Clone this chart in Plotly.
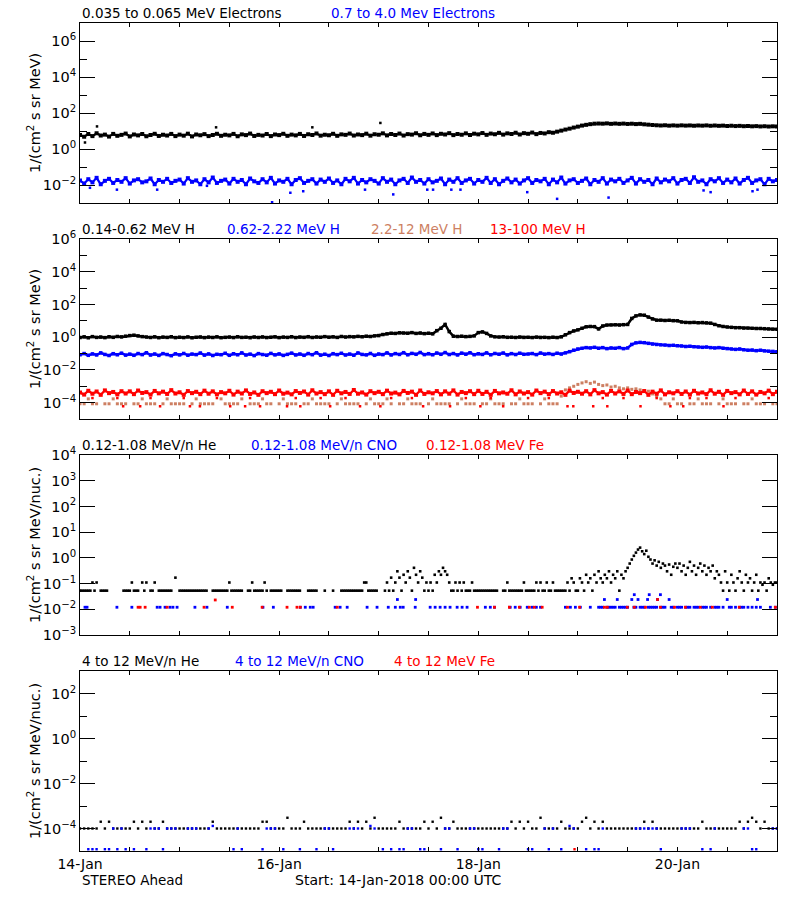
import pandas as pd
import plotly.graph_objects as go

START = pd.Timestamp("2018-01-14 00:00")
END = pd.Timestamp("2018-01-21 00:00")

# ---------------- Panel 1: electrons, hourly values ----------------
e_low = [
    6.0, 4.8, 6.8, 5.2, 7.5, 5.6, 6.3, 4.9, 6.9, 5.4, 6.1, 7.2,
    5.0, 6.4, 5.7, 6.8, 5.1, 6.0, 7.0, 5.3, 6.2, 5.6, 6.9, 5.2,
    6.3, 5.5, 7.1, 5.0, 6.4, 5.8, 6.7, 5.2, 6.0, 7.0, 5.4, 6.2,
    5.7, 6.9, 5.1, 6.5, 5.9, 7.2, 5.3, 6.1, 5.6, 6.8, 5.2, 6.4,
    5.9, 7.0, 5.4, 6.3, 5.7, 6.9, 5.3, 6.6, 6.0, 7.3, 5.5, 6.2,
    5.8, 7.0, 5.4, 6.5, 6.1, 7.2, 5.6, 6.4, 5.9, 7.1, 5.5, 6.6,
    6.2, 7.4, 5.7, 6.8, 6.0, 7.2, 5.6, 6.7, 6.3, 7.5, 5.8, 6.9,
    6.1, 7.3, 5.9, 7.0, 6.4, 7.6, 5.9, 6.8, 6.2, 7.4, 6.0, 7.1,
    6.5, 7.7, 6.1, 7.2, 6.6, 7.9, 6.3, 7.4, 6.8, 8.0, 6.4, 7.6,
    7.0, 8.2, 6.7, 7.8, 7.3, 8.6, 8.0, 9.2, 10.5, 12.0, 13.5, 15.5,
    17.5, 20.0, 22.0, 24.0, 25.5, 26.0, 25.5, 26.5, 25.0, 26.0, 25.0, 25.8,
    24.6, 25.4, 24.2, 25.0, 23.5, 22.5, 21.5, 20.8, 20.2, 20.8, 19.8, 20.5,
    19.8, 20.6, 19.9, 20.4, 19.6, 20.3, 19.8, 20.5, 19.5, 20.2, 19.4, 19.9,
    19.0, 19.6, 18.8, 19.3, 18.5, 19.0, 18.2, 18.7, 17.9, 18.4, 17.7, 18.2,
    17.6]
e_low_out_hours = [1.2, 4.1, 32.8, 56.0, 72.4]
e_low_out_vals = [2.3, 18.0, 16.0, 16.0, 28.0]

e_high = [
    0.018, 0.012, 0.021, 0.014, 0.025, 0.011, 0.017, 0.022, 0.013, 0.019, 0.015, 0.024,
    0.012, 0.018, 0.021, 0.014, 0.016, 0.023, 0.011, 0.019, 0.015, 0.022, 0.013, 0.017,
    0.020, 0.012, 0.024, 0.015, 0.018, 0.011, 0.021, 0.014, 0.026, 0.013, 0.017, 0.020,
    0.012, 0.022, 0.015, 0.019, 0.011, 0.023, 0.016, 0.013, 0.021, 0.014, 0.025, 0.012,
    0.018, 0.015, 0.022, 0.011, 0.019, 0.024, 0.013, 0.017, 0.021, 0.012, 0.020, 0.015,
    0.023, 0.013, 0.018, 0.011, 0.022, 0.016, 0.025, 0.012, 0.019, 0.014, 0.021, 0.017,
    0.012, 0.024, 0.015, 0.020, 0.011, 0.018, 0.022, 0.013, 0.026, 0.015, 0.019, 0.012,
    0.021, 0.014, 0.017, 0.023, 0.011, 0.020, 0.015, 0.024, 0.013, 0.018, 0.022, 0.012,
    0.019, 0.015, 0.025, 0.013, 0.021, 0.011, 0.017, 0.023, 0.014, 0.020, 0.012, 0.018,
    0.024, 0.013, 0.019, 0.016, 0.022, 0.011, 0.020, 0.014, 0.026, 0.012, 0.018, 0.021,
    0.013, 0.017, 0.023, 0.011, 0.019, 0.015, 0.024, 0.012, 0.020, 0.016, 0.022, 0.013,
    0.018, 0.025, 0.012, 0.021, 0.015, 0.019, 0.011, 0.023, 0.014, 0.020, 0.016, 0.024,
    0.012, 0.019, 0.022, 0.013, 0.027, 0.015, 0.018, 0.011, 0.021, 0.016, 0.024, 0.013,
    0.020, 0.014, 0.023, 0.012, 0.019, 0.025, 0.013, 0.018, 0.021, 0.011, 0.022, 0.016,
    0.019]
e_high_out_hours = [2.4, 8.9, 18.6, 30.6, 46.3, 50.7, 53.8, 68.7, 75.5, 83.7,
                    85.1, 89.5, 91.7, 107.8, 115.0, 127.4, 150.3, 152.0, 162.1, 163.3]
e_high_out_vals = [0.007, 0.0055, 0.0055, 0.009, 0.0011, 0.0037, 0.0045, 0.0055, 0.003, 0.0055,
                   0.0055, 0.0055, 0.0055, 0.004, 0.0017, 0.002, 0.005, 0.004, 0.0045, 0.0055]

# ---------------- Panel 2: protons, hourly values ----------------
h_014 = [
    0.95, 1.05, 0.92, 1.08, 0.97, 1.02, 0.94, 1.06, 0.98, 1.10, 1.04, 1.15,
    1.25, 1.32, 1.20, 1.08, 1.02, 0.96, 1.05, 0.93, 1.01, 0.97, 1.06, 0.94,
    1.00, 0.95, 1.04, 0.92, 0.99, 1.03, 0.94, 1.01, 0.96, 1.05, 0.93, 0.98,
    1.02, 0.95, 1.06, 0.97, 1.00, 0.93, 1.03, 0.96, 1.04, 0.95, 0.99, 1.05,
    0.94, 1.01, 0.97, 1.06, 0.95, 1.02, 0.98, 1.07, 0.96, 1.03, 0.99, 1.08,
    1.00, 1.05, 0.97, 1.10, 1.02, 1.08, 1.04, 1.12, 1.06, 1.15, 1.10, 1.20,
    1.25, 1.45, 1.60, 1.75, 1.70, 1.85, 1.80, 1.75, 1.90, 1.70, 1.80, 1.65,
    1.75, 1.60, 2.50, 3.50, 6.00, 2.20, 1.15, 1.10, 1.15, 1.08, 1.12, 1.20,
    1.90, 2.10, 1.70, 1.20, 1.05, 1.02, 1.06, 0.98, 1.00, 0.96, 1.02, 0.97,
    0.99, 0.95, 1.01, 0.96, 0.98, 0.94, 1.00, 0.95, 1.05, 1.40, 1.90, 2.40,
    2.80, 3.50, 4.30, 4.50, 4.40, 3.20, 4.80, 5.50, 5.60, 5.70, 5.50, 5.80,
    6.00, 14.0, 20.0, 23.0, 22.0, 17.0, 13.0, 11.0, 11.0, 10.5, 10.8, 10.2,
    10.0, 8.5, 8.0, 7.8, 8.0, 7.6, 7.8, 7.5, 7.2, 6.0, 5.0, 4.5,
    4.2, 4.0, 3.8, 3.8, 3.6, 3.6, 3.5, 3.4, 3.4, 3.3, 3.2, 3.1,
    3.0]

h_062 = [
    0.085, 0.10, 0.078, 0.095, 0.082, 0.11, 0.088, 0.076, 0.098, 0.084, 0.105, 0.080,
    0.092, 0.078, 0.10, 0.086, 0.112, 0.081, 0.094, 0.077, 0.099, 0.087, 0.074, 0.096,
    0.083, 0.101, 0.079, 0.093, 0.086, 0.108, 0.080, 0.095, 0.076, 0.090, 0.085, 0.104,
    0.078, 0.097, 0.084, 0.11, 0.081, 0.092, 0.075, 0.099, 0.087, 0.079, 0.102, 0.083,
    0.095, 0.077, 0.089, 0.106, 0.082, 0.094, 0.078, 0.10, 0.085, 0.112, 0.080, 0.091,
    0.076, 0.098, 0.086, 0.104, 0.081, 0.093, 0.079, 0.109, 0.088, 0.083, 0.101, 0.078,
    0.094, 0.086, 0.11, 0.082, 0.099, 0.088, 0.113, 0.084, 0.102, 0.090, 0.116, 0.086,
    0.098, 0.084, 0.108, 0.090, 0.115, 0.087, 0.10, 0.082, 0.106, 0.091, 0.112, 0.085,
    0.097, 0.088, 0.110, 0.084, 0.101, 0.091, 0.108, 0.083, 0.099, 0.087, 0.105, 0.090,
    0.094, 0.10, 0.086, 0.108, 0.092, 0.099, 0.088, 0.105, 0.093, 0.11, 0.13, 0.16,
    0.19, 0.21, 0.23, 0.22, 0.24, 0.21, 0.23, 0.20, 0.22, 0.21, 0.23, 0.20,
    0.22, 0.36, 0.45, 0.48, 0.46, 0.42, 0.38, 0.36, 0.34, 0.33, 0.31, 0.32,
    0.30, 0.29, 0.27, 0.28, 0.26, 0.25, 0.24, 0.25, 0.23, 0.22, 0.23, 0.21,
    0.20, 0.19, 0.18, 0.19, 0.17, 0.16, 0.165, 0.15, 0.16, 0.145, 0.14, 0.135,
    0.13]

h_22 = [
    8.5e-5, 8.5e-5, 1.7e-4, 8.5e-5, 8.5e-5, None, 8.5e-5, 8.5e-5, 1.7e-4, 8.5e-5, 8.5e-5, 8.5e-5,
    None, 8.5e-5, 8.5e-5, 1.7e-4, 8.5e-5, 8.5e-5, 8.5e-5, None, 8.5e-5, 1.7e-4, 8.5e-5, 8.5e-5,
    8.5e-5, 8.5e-5, None, 8.5e-5, 1.7e-4, 8.5e-5, 8.5e-5, 8.5e-5, 8.5e-5, None, 1.7e-4, 8.5e-5,
    8.5e-5, 8.5e-5, 8.5e-5, 1.7e-4, None, 8.5e-5, 8.5e-5, 8.5e-5, 1.7e-4, 8.5e-5, 8.5e-5, None,
    8.5e-5, 1.7e-4, 8.5e-5, 8.5e-5, 8.5e-5, None, 8.5e-5, 8.5e-5, 1.7e-4, 8.5e-5, 8.5e-5, 8.5e-5,
    8.5e-5, None, 8.5e-5, 1.7e-4, 8.5e-5, 8.5e-5, 8.5e-5, 8.5e-5, None, 8.5e-5, 1.7e-4, 8.5e-5,
    8.5e-5, 8.5e-5, 1.7e-4, 8.5e-5, None, 8.5e-5, 8.5e-5, 1.7e-4, 8.5e-5, 8.5e-5, 8.5e-5, None,
    8.5e-5, 1.7e-4, 8.5e-5, 8.5e-5, 8.5e-5, 8.5e-5, None, 8.5e-5, 1.7e-4, 8.5e-5, 8.5e-5, 8.5e-5,
    None, 8.5e-5, 8.5e-5, 1.7e-4, 8.5e-5, 8.5e-5, 8.5e-5, None, 8.5e-5, 8.5e-5, 1.7e-4, 8.5e-5,
    8.5e-5, 8.5e-5, None, 8.5e-5, 1.7e-4, 8.5e-5, 8.5e-5, 8.5e-5, 2.5e-4, 6.0e-4, 8.0e-4, 1.0e-3,
    1.3e-3, 1.6e-3, 1.9e-3, 1.5e-3, 1.8e-3, 1.3e-3, 1.1e-3, 1.2e-3, 9.0e-4, 1.0e-3, 8.0e-4, 7.0e-4,
    8.0e-4, 6.5e-4, 7.0e-4, 6.0e-4, 5.5e-4, 5.0e-4, 3.4e-4, 2.5e-4, 1.7e-4, 8.5e-5, 8.5e-5, 1.7e-4,
    8.5e-5, 8.5e-5, None, 8.5e-5, 8.5e-5, 1.7e-4, 8.5e-5, 8.5e-5, 8.5e-5, None, 8.5e-5, 1.7e-4,
    8.5e-5, 8.5e-5, 8.5e-5, None, 8.5e-5, 8.5e-5, 1.7e-4, 8.5e-5, 8.5e-5, 8.5e-5, None, 8.5e-5,
    8.5e-5]

h_13 = [
    4.2e-4, 3.1e-4, 5.3e-4, 3.5e-4, 4.8e-4, 3.0e-4, 5.6e-4, 3.8e-4, 4.5e-4, 3.2e-4, 5.0e-4, 3.6e-4,
    4.9e-4, 3.3e-4, 5.5e-4, 3.9e-4, 4.4e-4, 3.1e-4, 5.2e-4, 3.7e-4, 4.7e-4, 3.4e-4, 5.8e-4, 3.6e-4,
    4.3e-4, 3.0e-4, 5.1e-4, 3.8e-4, 4.6e-4, 3.3e-4, 5.4e-4, 3.5e-4, 4.9e-4, 3.2e-4, 4.4e-4, 3.7e-4,
    5.3e-4, 3.1e-4, 4.7e-4, 3.6e-4, 5.6e-4, 3.4e-4, 4.2e-4, 3.0e-4, 5.0e-4, 3.8e-4, 4.6e-4, 3.3e-4,
    5.5e-4, 3.5e-4, 4.1e-4, 3.2e-4, 5.1e-4, 3.9e-4, 4.8e-4, 3.1e-4, 5.7e-4, 3.6e-4, 4.4e-4, 3.3e-4,
    4.9e-4, 3.0e-4, 5.3e-4, 3.7e-4, 4.5e-4, 3.4e-4, 5.9e-4, 3.5e-4, 4.2e-4, 3.1e-4, 5.0e-4, 3.8e-4,
    4.6e-4, 3.3e-4, 5.4e-4, 3.6e-4, 4.1e-4, 3.2e-4, 5.2e-4, 3.9e-4, 4.7e-4, 3.0e-4, 5.5e-4, 3.4e-4,
    4.3e-4, 3.7e-4, 5.1e-4, 3.2e-4, 4.9e-4, 3.5e-4, 5.6e-4, 3.1e-4, 4.5e-4, 3.8e-4, 5.0e-4, 3.3e-4,
    5.3e-4, 3.4e-4, 4.6e-4, 3.0e-4, 5.2e-4, 3.7e-4, 4.2e-4, 3.5e-4, 5.7e-4, 3.2e-4, 4.8e-4, 3.6e-4,
    4.4e-4, 3.1e-4, 5.5e-4, 3.8e-4, 4.7e-4, 3.3e-4, 5.1e-4, 3.6e-4, 4.3e-4, 3.0e-4, 5.4e-4, 3.9e-4,
    4.6e-4, 3.5e-4, 5.0e-4, 3.2e-4, 5.8e-4, 3.7e-4, 4.4e-4, 3.1e-4, 5.2e-4, 3.6e-4, 4.9e-4, 3.4e-4,
    5.5e-4, 3.3e-4, 4.5e-4, 3.8e-4, 5.1e-4, 3.0e-4, 4.7e-4, 3.5e-4, 5.6e-4, 3.2e-4, 4.3e-4, 3.7e-4,
    5.0e-4, 3.4e-4, 4.8e-4, 3.1e-4, 5.3e-4, 3.6e-4, 4.2e-4, 3.3e-4, 5.7e-4, 3.5e-4, 4.6e-4, 3.0e-4,
    5.2e-4, 3.8e-4, 4.4e-4, 3.2e-4, 5.5e-4, 3.4e-4, 4.9e-4, 3.1e-4, 4.5e-4, 3.7e-4, 5.4e-4, 3.3e-4,
    4.6e-4]
h_13_out_hours = [
    3.0, 9.0, 10.4, 14.5, 17.0, 19.3, 25.0, 26.5, 28.9, 33.0,
    36.2, 39.8, 41.0, 43.4, 49.9, 52.0, 53.1, 58.0, 60.3, 64.0,
    67.5, 72.4, 75.0, 80.0, 82.7, 89.2, 93.0, 96.5, 99.0, 102.0,
    108.0, 113.0, 117.5, 118.9, 123.7, 126.0, 127.1, 131.0, 135.1, 139.0,
    142.3, 145.4, 147.0, 151.0, 155.1, 158.0, 166.0]
h_13_out_vals = [
    1.9e-4, 1.9e-4, 6e-5, 6e-5, 1.9e-4, 6e-5, 1.9e-4, 6e-5, 6e-5, 1.9e-4,
    6e-5, 6e-5, 1.9e-4, 6e-5, 6e-5, 1.9e-4, 6e-5, 1.9e-4, 6e-5, 1.9e-4,
    6e-5, 6e-5, 1.9e-4, 1.9e-4, 6e-5, 6e-5, 1.9e-4, 6e-5, 1.9e-4, 6e-5,
    1.9e-4, 1.9e-4, 6e-5, 6e-5, 6e-5, 1.9e-4, 6e-5, 1.9e-4, 6e-5, 1.9e-4,
    6e-5, 6e-5, 1.9e-4, 1.9e-4, 6e-5, 1.9e-4, 1.9e-4]

# ---------------- Panel 3: 0.12-1.08 MeV/n ions ----------------
# He, half-hourly values
he_low = [
    0.053, 0.053, 0.053, 0.053, 0.053, 0.053, 0.11, 0.053, 0.11, None, 0.053, 0.053,
    0.053, 0.053, None, None, None, None, None, None, None, 0.053, 0.053, 0.053,
    0.053, 0.11, 0.053, 0.053, 0.053, None, 0.11, 0.053, 0.11, None, 0.053, 0.053,
    0.11, None, 0.053, 0.053, 0.053, 0.053, 0.053, 0.053, 0.053, None, 0.17, None,
    0.053, 0.053, 0.053, 0.053, 0.053, 0.053, 0.053, 0.053, 0.053, 0.053, 0.053, 0.053,
    0.053, 0.053, None, None, 0.053, 0.053, 0.053, 0.053, 0.053, 0.053, 0.053, 0.053,
    0.11, 0.053, 0.053, 0.053, 0.053, 0.053, 0.053, None, None, 0.053, 0.053, 0.11,
    0.053, 0.053, 0.053, 0.053, 0.053, 0.11, 0.053, None, 0.053, 0.053, 0.053, 0.053,
    0.053, 0.053, None, None, 0.053, 0.053, 0.053, 0.053, 0.053, 0.053, 0.053, None,
    None, None, 0.053, 0.053, 0.053, 0.053, 0.053, None, None, None, 0.053, None,
    None, None, 0.053, None, None, None, 0.053, 0.053, 0.053, 0.053, 0.053, 0.053,
    0.053, 0.053, 0.053, 0.053, 0.053, 0.11, 0.11, 0.053, 0.053, 0.053, 0.053, 0.053,
    None, None, None, 0.053, 0.11, 0.053, 0.17, 0.053, 0.11, 0.3, 0.17, 0.053,
    0.22, 0.11, 0.3, 0.17, 0.053, 0.41, 0.22, 0.11, 0.3, 0.17, 0.053, 0.11,
    0.053, 0.11, 0.053, 0.22, 0.11, 0.3, 0.22, 0.41, 0.3, 0.22, 0.11, 0.053,
    0.053, 0.11, 0.053, 0.11, 0.053, 0.11, 0.053, 0.053, 0.053, 0.11, 0.053, 0.053,
    0.053, 0.053, 0.053, 0.053, 0.053, 0.053, 0.053, 0.053, 0.053, 0.053, None, None,
    0.053, 0.053, 0.11, 0.053, 0.053, 0.053, 0.053, 0.053, 0.053, 0.053, 0.11, 0.053,
    0.053, 0.053, 0.053, 0.053, 0.11, 0.053, 0.11, 0.053, 0.053, 0.11, 0.053, 0.053,
    0.11, 0.053, 0.053, 0.053, 0.053, 0.053, 0.053, 0.11, 0.053, 0.16, 0.11, 0.053,
    0.053, 0.16, 0.11, 0.053, 0.22, 0.11, 0.16, 0.053, 0.22, 0.11, 0.3, 0.16,
    0.11, 0.22, 0.16, 0.3, 0.11, 0.22, 0.16, 0.3, 0.053, 0.22, 0.16, 0.3,
    0.41, 0.6, 0.86, 1.2, 1.6, 2.1, 2.5, 1.8, 1.4, 1.9, 1.1, 0.86,
    0.6, 0.8, 0.5, 0.7, 0.41, 0.6, 0.5, 0.3, 0.55, 0.22, 0.45, 0.6,
    0.41, 0.6, 0.3, 0.5, 0.22, 0.41, 0.7, 0.3, 0.5, 0.22, 0.41, 0.6,
    0.3, 0.5, 0.22, 0.41, 0.3, 0.5, 0.16, 0.3, 0.22, 0.11, 0.053, 0.3,
    0.11, 0.053, 0.22, 0.11, 0.053, 0.16, 0.3, 0.11, 0.053, 0.22, 0.11, 0.16,
    0.053, 0.11, 0.22, 0.053, 0.11, 0.09, 0.11, 0.053, 0.16, 0.11, 0.09, 0.11,
    0.11]

cno_low_hours = [
    1.2, 1.7, 8.9, 12.5, 18.6, 19.3, 20.5, 21.7, 22.4, 23.4,
    27.7, 30.6, 35.5, 44.1, 46.6, 53.1, 54.3, 55.5, 56.2, 61.5,
    62.7, 64.4, 69.2, 71.6, 74.3, 76.0, 76.5, 77.2, 77.9, 80.8,
    80.9, 84.4, 85.6, 86.8, 88.0, 89.2, 90.9, 92.1, 93.3, 97.7,
    98.9, 99.9, 103.7, 104.9, 106.1, 107.8, 109.0, 110.0, 111.0, 117.0,
    118.2, 119.4, 120.6, 123.0, 125.0, 125.5, 126.0, 126.4, 127.0, 127.5,
    128.0, 128.5, 129.0, 129.5, 130.0, 130.5, 131.0, 131.5, 132.0, 133.0,
    133.5, 133.6, 134.0, 134.5, 135.0, 135.5, 136.0, 136.8, 137.0, 137.2,
    137.5, 138.0, 138.5, 139.0, 139.2, 139.9, 140.0, 140.5, 141.0, 142.0,
    142.5, 143.0, 144.0, 144.5, 145.0, 146.0, 146.5, 147.0, 148.0, 148.5,
    149.0, 150.0, 150.5, 151.0, 152.0, 153.0, 153.5, 154.0, 155.0, 156.0,
    156.5, 157.0, 158.0, 159.0, 159.5, 160.0, 161.0, 162.0, 163.0, 163.3,
    164.0, 166.4, 167.6]
cno_low_vals = [
    0.012, 0.012, 0.012, 0.012, 0.012, 0.012, 0.012, 0.012, 0.012, 0.012,
    0.012, 0.012, 0.012, 0.012, 0.012, 0.012, 0.012, 0.012, 0.012, 0.012,
    0.012, 0.012, 0.012, 0.012, 0.012, 0.012, 0.024, 0.012, 0.012, 0.012,
    0.024, 0.012, 0.012, 0.012, 0.012, 0.012, 0.012, 0.012, 0.012, 0.012,
    0.012, 0.012, 0.012, 0.012, 0.012, 0.012, 0.012, 0.012, 0.012, 0.012,
    0.012, 0.012, 0.012, 0.012, 0.012, 0.012, 0.012, 0.024, 0.012, 0.012,
    0.012, 0.012, 0.012, 0.024, 0.012, 0.012, 0.012, 0.012, 0.012, 0.024,
    0.012, 0.037, 0.012, 0.024, 0.012, 0.012, 0.012, 0.024, 0.012, 0.037,
    0.012, 0.012, 0.012, 0.012, 0.024, 0.037, 0.012, 0.012, 0.012, 0.024,
    0.012, 0.012, 0.012, 0.012, 0.012, 0.012, 0.012, 0.012, 0.012, 0.012,
    0.012, 0.012, 0.012, 0.012, 0.012, 0.012, 0.012, 0.012, 0.012, 0.024,
    0.012, 0.012, 0.012, 0.012, 0.012, 0.012, 0.012, 0.012, 0.012, 0.024,
    0.012, 0.012, 0.012]

fe_low_hours = [
    14.0, 14.5, 15.7, 21.0, 29.9, 32.6, 36.7, 43.9, 49.9, 52.3,
    53.1, 62.0, 95.8, 99.9, 103.5, 105.9, 108.3, 109.5, 111.4, 117.5,
    120.4, 126.4, 127.1, 131.9, 133.6, 136.3, 139.2, 139.9, 143.3, 145.9,
    149.5, 152.4, 158.9, 167.6]
fe_low_vals = [
    0.012, 0.012, 0.012, 0.012, 0.012, 0.023, 0.012, 0.012, 0.012, 0.012,
    0.012, 0.012, 0.012, 0.012, 0.012, 0.012, 0.012, 0.012, 0.012, 0.012,
    0.012, 0.012, 0.012, 0.012, 0.012, 0.012, 0.024, 0.012, 0.012, 0.012,
    0.012, 0.012, 0.012, 0.012]

# ---------------- Panel 4: 4-12 MeV/n ions, hourly values ----------------
he_high = [
    1e-4, 1e-4, 1e-4, 1e-4, 1e-4, 2e-4, 1e-4, 2e-4, 1e-4, 1e-4, 1e-4, 1e-4,
    1e-4, 2e-4, 1e-4, 2e-4, 1e-4, 2e-4, 1e-4, 1e-4, 2e-4, 1e-4, 1e-4, 1e-4,
    1e-4, 1e-4, 1e-4, 1e-4, 1e-4, 1e-4, 1e-4, 1e-4, 2e-4, 1e-4, 1e-4, 1e-4,
    1e-4, 1e-4, 1e-4, 1e-4, 1e-4, 1e-4, 1e-4, 1e-4, 2e-4, 2e-4, 1e-4, 1e-4,
    1e-4, 1e-4, 3e-4, 1e-4, 1e-4, 1e-4, 2e-4, 1e-4, 1e-4, 1e-4, 1e-4, 1e-4,
    1e-4, 1e-4, 1e-4, 1e-4, 1e-4, 2e-4, 1e-4, 2e-4, 1e-4, 2e-4, 1e-4, 3e-4,
    1e-4, 1e-4, 1e-4, 1e-4, 1e-4, 2e-4, 1e-4, 1e-4, 1e-4, 1e-4, 1e-4, 2e-4,
    1e-4, 2e-4, 1e-4, 3e-4, 1e-4, 1e-4, 2e-4, 1e-4, 1e-4, 1e-4, 1e-4, 1e-4,
    1e-4, 1e-4, 1e-4, 1e-4, 1e-4, 1e-4, 1e-4, 1e-4, 2e-4, 1e-4, 2e-4, 1e-4,
    2e-4, 1e-4, 1e-4, 3e-4, 1e-4, 1e-4, 1e-4, 1e-4, 2e-4, 1e-4, 1e-4, 1e-4,
    1e-4, 2e-4, 3e-4, 1e-4, 2e-4, 1e-4, 2e-4, 1e-4, 1e-4, 1e-4, 1e-4, 1e-4,
    1e-4, 1e-4, 1e-4, 1e-4, 2e-4, 1e-4, 2e-4, 1e-4, 1e-4, 1e-4, 1e-4, 1e-4,
    1e-4, 1e-4, 1e-4, 1e-4, 1e-4, 1e-4, 2e-4, 1e-4, 1e-4, 1e-4, 1e-4, 1e-4,
    1e-4, 1e-4, 1e-4, 2e-4, 1e-4, 2e-4, 3e-4, 2e-4, 1e-4, 2e-4, 1e-4, 1e-4,
    1e-4]

cno_high = [
    None, None, 1.2e-5, 1.2e-5, 1.2e-5, None, 1.2e-5, 1.2e-5, 1e-4, 1.2e-5, 1e-4, 1.2e-5,
    None, 1.2e-5, None, None, 1.2e-5, 1e-4, 1e-4, 1e-4, 1.2e-5, 1e-4, 1e-4, 1e-4,
    None, None, 1e-4, 1e-4, 1e-4, None, None, 1e-4, 1.3e-4, None, None, None,
    None, 1.2e-5, 1e-4, 1.2e-5, None, None, None, None, 1.2e-5, 1e-4, 1e-4, 1e-4,
    None, 1.2e-5, None, None, None, 1.2e-5, None, None, None, 1.2e-5, None, 1e-4,
    1e-4, 1.2e-5, None, None, None, 1e-4, 1e-4, 1e-4, None, None, 1.3e-4, 1e-4,
    None, 1.2e-5, None, 1.2e-5, None, 1.2e-5, 1.2e-5, 1e-4, 1e-4, None, 1.2e-5, 1.2e-5,
    None, None, None, 1.2e-5, 1e-4, 1e-4, None, 1.2e-5, None, None, 1e-4, 1e-4,
    1.2e-5, 1.2e-5, None, None, None, 1.2e-5, 1e-4, 1e-4, None, None, None, None,
    1.2e-5, 1.2e-5, None, None, 1e-4, 1.2e-5, 1e-4, None, 1.2e-5, None, 1.3e-4, 1e-4,
    None, None, 1.2e-5, None, 1.2e-5, 1.2e-5, 1e-4, None, None, None, None, None,
    None, None, 1e-4, 1e-4, 1e-4, 1e-4, 1e-4, 1e-4, 1.2e-5, None, None, None,
    None, 1e-4, 1e-4, 1e-4, None, None, 1.2e-5, None, 1.2e-5, 1e-4, None, None,
    None, None, None, None, 1e-4, 1e-4, 1.2e-5, 1.2e-5, None, None, None, 1e-4,
    1e-4]

fe_high_hours = [119.2]
fe_high_vals = [1.2e-5]

# ---------------- styling ----------------
BLACK = "#000000"
BLUE = "#0000FF"
BROWN = "#CD7F62"
RED = "#FF0000"
FONT = "DejaVu Sans"
FS = 13.5

W, H = 800, 900
X0, X1 = 80, 777
PANEL_TOPS = [23, 239, 455, 671]
PANEL_H = 180


def hourly(vals):
    return pd.date_range(START, periods=len(vals), freq="h")


def halfhourly(vals):
    return pd.date_range(START, periods=len(vals), freq="30min")


def at(hours):
    return START + pd.to_timedelta(hours, unit="h")


fig = go.Figure()


def band(x, y, color, width, msize, ax):
    fig.add_trace(go.Scatter(x=x, y=y, mode="lines+markers", line=dict(color=color, width=width),
                             marker=dict(color=color, size=msize, symbol="square", line=dict(width=0)),
                             connectgaps=False, xaxis=ax[0], yaxis=ax[1], showlegend=False,
                             hoverinfo="skip"))


def dots(x, y, color, size, ax):
    fig.add_trace(go.Scatter(x=x, y=y, mode="markers",
                             marker=dict(color=color, size=size, symbol="square", line=dict(width=0)),
                             xaxis=ax[0], yaxis=ax[1], showlegend=False, hoverinfo="skip"))


A1, A2, A3, A4 = ("x", "y"), ("x2", "y2"), ("x3", "y3"), ("x4", "y4")

# panel 1
band(hourly(e_low), e_low, BLACK, 2.2, 4, A1)
dots(at(e_low_out_hours), e_low_out_vals, BLACK, 2.5, A1)
band(hourly(e_high), e_high, BLUE, 2.2, 4, A1)
dots(at(e_high_out_hours), e_high_out_vals, BLUE, 2.5, A1)

# panel 2
band(hourly(h_014), h_014, BLACK, 2.5, 3.5, A2)
band(hourly(h_062), h_062, BLUE, 2.5, 3.5, A2)
dots(hourly(h_22), h_22, BROWN, 3, A2)
band(hourly(h_13), h_13, RED, 2.2, 4, A2)
dots(at(h_13_out_hours), h_13_out_vals, RED, 2.5, A2)

# panel 3
dots(halfhourly(he_low), he_low, BLACK, 2.6, A3)
dots(at(cno_low_hours), cno_low_vals, BLUE, 2.8, A3)
dots(at(fe_low_hours), fe_low_vals, RED, 2.8, A3)

# panel 4
dots(hourly(he_high), he_high, BLACK, 2.4, A4)
dots(hourly(cno_high), cno_high, BLUE, 2.4, A4)
dots(at(fe_high_hours), fe_high_vals, RED, 2.4, A4)


def sup(e):
    s = str(e).replace("-", "\u2212")
    return "10<sup>" + s + "</sup>"


x_major = [pd.Timestamp("2018-01-14"), pd.Timestamp("2018-01-16"),
           pd.Timestamp("2018-01-18"), pd.Timestamp("2018-01-20")]
x_major_text = ["14-Jan", "16-Jan", "18-Jan", "20-Jan"]
x_minor = [t for t in pd.date_range(START, END, freq="12h") if t not in x_major]

y_specs = [
    dict(rng=[-3, 7], major=[-2, 0, 2, 4, 6], minor=[-1, 1, 3, 5]),
    dict(rng=[-5, 6], major=[-4, -2, 0, 2, 4, 6], minor=[-3, -1, 1, 3, 5]),
    dict(rng=[-3, 4], major=[-3, -2, -1, 0, 1, 2, 3, 4], minor=[]),
    dict(rng=[-5, 3], major=[-4, -2, 0, 2], minor=[-3, -1, 1]),
]

layout = dict(
    template="none",
    width=W, height=H, margin=dict(l=0, r=0, t=0, b=0, autoexpand=False),
    paper_bgcolor="white", plot_bgcolor="white",
    font=dict(family=FONT, size=FS, color="black"),
    showlegend=False,
)

for i in range(4):
    top = PANEL_TOPS[i]
    bot = top + PANEL_H
    sfx = "" if i == 0 else str(i + 1)
    layout["xaxis" + sfx] = dict(
        domain=[X0 / W, X1 / W], anchor="y" + sfx, type="date", automargin=False,
        range=[START, END], tickmode="array", tickvals=x_major, ticktext=x_major_text,
        showticklabels=(i == 3), ticks="inside", ticklen=4, tickwidth=1, tickcolor="black",
        minor=dict(tickmode="array", tickvals=x_minor, ticks="inside", ticklen=4,
                   tickwidth=1, tickcolor="black", showgrid=False),
        showline=True, linecolor="black", linewidth=1, mirror="ticks",
        showgrid=False, zeroline=False, tickfont=dict(family=FONT, size=FS + 0.5, color="black"),
    )
    spec = y_specs[i]
    layout["yaxis" + sfx] = dict(
        domain=[1 - bot / H, 1 - top / H], anchor="x" + sfx, type="log", automargin=False,
        range=spec["rng"], tickmode="array",
        tickvals=[10.0 ** e for e in spec["major"]],
        ticktext=[sup(e) for e in spec["major"]],
        ticks="inside", ticklen=15, tickwidth=1, tickcolor="black",
        minor=dict(tickmode="array", tickvals=[10.0 ** e for e in spec["minor"]],
                   ticks="inside", ticklen=7, tickwidth=1, tickcolor="black", showgrid=False),
        showline=True, linecolor="black", linewidth=1, mirror="ticks",
        showgrid=False, zeroline=False, tickfont=dict(family=FONT, size=FS + 1, color="black"),
    )

fig.update_layout(**layout)

titles = [
    [("0.035 to 0.065 MeV Electrons", 80, BLACK), ("0.7 to 4.0 Mev Electrons", 329, BLUE)],
    [("0.14-0.62 MeV H", 80, BLACK), ("0.62-2.22 MeV H", 225, BLUE),
     ("2.2-12 MeV H", 369, BROWN), ("13-100 MeV H", 488, RED)],
    [("0.12-1.08 MeV/n He", 80, BLACK), ("0.12-1.08 MeV/n CNO", 249, BLUE),
     ("0.12-1.08 MeV Fe", 424, RED)],
    [("4 to 12 MeV/n He", 80, BLACK), ("4 to 12 MeV/n CNO", 233, BLUE),
     ("4 to 12 MeV Fe", 392, RED)],
]
y_titles = ["1/(cm<sup>2</sup> s sr MeV)", "1/(cm<sup>2</sup> s sr MeV)",
            "1/(cm<sup>2</sup> s sr MeV/nuc.)", "1/(cm<sup>2</sup> s sr MeV/nuc.)"]

annotations = []
for i in range(4):
    top = PANEL_TOPS[i]
    for text, xpx, col in titles[i]:
        annotations.append(dict(text=text, x=xpx / W, y=1 - (top - 10) / H, xref="paper", yref="paper",
                                xanchor="left", yanchor="middle", showarrow=False,
                                font=dict(family=FONT, size=FS, color=col)))
    annotations.append(dict(text=y_titles[i], x=34 / W, y=1 - (top + PANEL_H / 2) / H,
                            xref="paper", yref="paper", xanchor="center", yanchor="middle",
                            textangle=-90, showarrow=False,
                            font=dict(family=FONT, size=FS + 1, color="black")))

annotations.append(dict(text="STEREO Ahead", x=80 / W, y=1 - 880 / H, xref="paper", yref="paper",
                        xanchor="left", yanchor="middle", showarrow=False,
                        font=dict(family=FONT, size=FS, color="black")))
annotations.append(dict(text="Start: 14-Jan-2018 00:00 UTC", x=293 / W, y=1 - 880 / H,
                        xref="paper", yref="paper", xanchor="left", yanchor="middle",
                        showarrow=False, font=dict(family=FONT, size=FS + 0.5, color="black")))

fig.update_layout(annotations=annotations)

fig.write_html("out.html", config={"displayModeBar": False},
               post_script="document.body.style.margin='0px';document.body.style.padding='0px';")
